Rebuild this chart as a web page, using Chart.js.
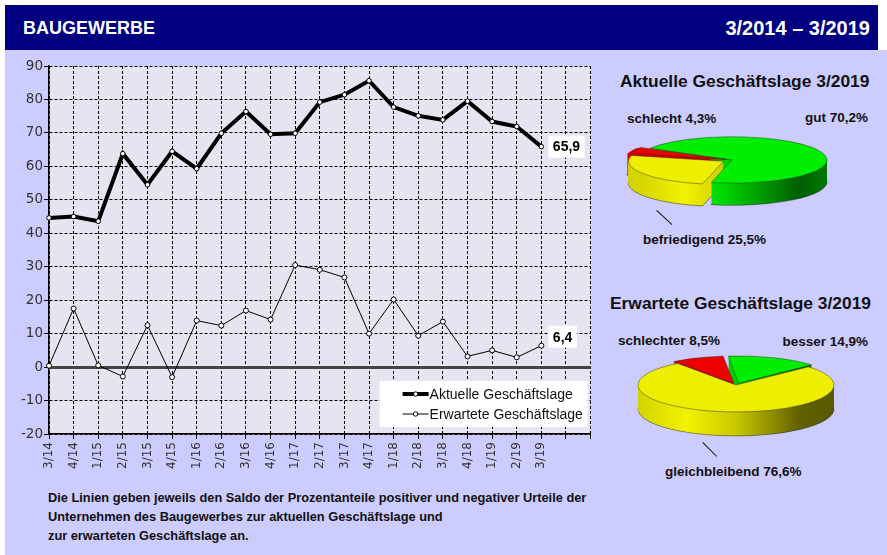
<!DOCTYPE html>
<html>
<head>
<meta charset="utf-8">
<script src="https://cdn.jsdelivr.net/npm/chart.js@4/dist/chart.umd.min.js"></script>
<style>
  body { margin: 0; background: #fff; }
  #page { position: relative; width: 887px; height: 555px; overflow: hidden; font-family: "Liberation Sans", Arial, sans-serif; }
  #head { position: absolute; left: 5px; top: 5px; width: 873px; height: 45px; background: #000080; }
  #body { position: absolute; left: 5px; top: 50px; width: 882px; height: 505px; background: #ccccff; }
  .t { position: absolute; white-space: nowrap; line-height: 20px; transform: translateY(-50%); }
  .hd { color: #fff; font-weight: bold; }
  .pt { font-weight: bold; font-size: 17.4px; color: #111; }
  .pl { font-weight: bold; font-size: 13.5px; color: #111; }
  .lead { position: absolute; height: 1px; background: #111; transform-origin: 0 0; }
  #foot { position: absolute; left: 48px; top: 488px; font-weight: bold; font-size: 12.8px; line-height: 19px; color: #111; }
  canvas { position: absolute; }
</style>
</head>
<body>
<div id="page">
  <div id="head"></div>
  <div id="body"></div>
  <div class="t hd" style="left:23px; top:28px; font-size:18px;">BAUGEWERBE</div>
  <div class="t hd" style="right:17px; top:28px; font-size:20px;">3/2014 – 3/2019</div>

  <canvas id="lineChart" width="608" height="430" style="left:0; top:48px;"></canvas>

  <div class="t pt" style="left:620px; top:81px;">Aktuelle Geschäftslage 3/2019</div>
  <div class="t pl" id="lblA2" style="left:627px; top:119px;"></div>
  <div class="t pl" id="lblA0" style="right:19px; top:118px;"></div>
  <div class="t pl" id="lblA1" style="left:643px; top:240px;"></div>
  <canvas id="pieA" width="264" height="120" style="left:600px; top:100px;"></canvas>
  <div class="lead" style="left:657px; top:210px; width:21px; transform: rotate(43deg);"></div>

  <div class="t pt" style="left:610px; top:303px;">Erwartete Geschäftslage 3/2019</div>
  <div class="t pl" id="lblE2" style="left:618px; top:341px;"></div>
  <div class="t pl" id="lblE0" style="right:19px; top:342px;"></div>
  <div class="t pl" id="lblE1" style="left:665px; top:472px;"></div>
  <canvas id="pieE" width="272" height="120" style="left:600px; top:325px;"></canvas>
  <div class="lead" style="left:703px; top:442px; width:20px; transform: rotate(45deg);"></div>

  <div id="foot">Die Linien geben jeweils den Saldo der Prozentanteile positiver und negativer Urteile der<br>Unternehmen des Baugewerbes zur aktuellen Geschäftslage und<br>zur erwarteten Geschäftslage an.</div>
</div>

<script>
// Quartale (die letzten zwei Positionen bleiben leer)
const quarters = ['3/14', '4/14', '1/15', '2/15', '3/15', '4/15', '1/16', '2/16', '3/16', '4/16',
                  '1/17', '2/17', '3/17', '4/17', '1/18', '2/18', '3/18', '4/18', '1/19', '2/19', '3/19', '', ''];

const aktuell = [44.6, 45.0, 43.6, 63.8, 54.5, 64.5, 59.3, 69.9, 76.4, 69.6,
                 69.9, 79.2, 81.4, 85.6, 77.7, 75.1, 73.9, 79.5, 73.4, 71.9, 65.9];
const erwartet = [0.4, 17.5, 0.5, -2.8, 12.5, -3.0, 13.9, 12.4, 16.9, 14.2,
                  30.5, 29.1, 26.8, 10.0, 20.2, 9.4, 13.6, 3.2, 5.0, 2.9, 6.4];

const yTicks = { min: -20, max: 90, step: 10 };

// Tortendiagramme 3/2019
const lageLabels = ['gut', 'befriedigend', 'schlecht'];
const lageValues = [70.2, 25.5, 4.3];
const erwLabels = ['besser', 'gleichbleibend', 'schlechter'];
const erwValues = [14.9, 76.6, 8.5];

// green / yellow / red in both pies
const pieColors = ['#00ee00', '#eeee00', '#ee0000'];

const fmt = v => v.toFixed(1).replace('.', ',');

Chart.defaults.font.family = '"DejaVu Sans", sans-serif';
Chart.defaults.animation = false;

// plot background, zero line, value boxes, legend
const plotDeco = {
    id: 'plotDeco',
    beforeDraw(chart) {
        const { ctx, chartArea: a } = chart;
        ctx.save();
        ctx.fillStyle = '#e5e5f2';
        ctx.fillRect(a.left, a.top, a.right - a.left, a.bottom - a.top);
        ctx.restore();
    },
    beforeDatasetsDraw(chart) {
        const { ctx, chartArea: a, scales } = chart;
        const y0 = Math.round(scales.y.getPixelForValue(0)) + 0.5;
        ctx.save();
        ctx.strokeStyle = '#444';
        ctx.lineWidth = 3;
        ctx.beginPath();
        ctx.moveTo(a.left, y0);
        ctx.lineTo(a.right, y0);
        ctx.stroke();
        ctx.restore();
    },
    afterDatasetsDraw(chart, args, opts) {
        const { ctx, chartArea: a } = chart;
        ctx.save();

        ctx.font = 'bold 14px "Liberation Sans", Arial';
        ctx.textBaseline = 'middle';
        ctx.textAlign = 'center';
        chart.data.datasets.forEach((ds, i) => {
            const meta = chart.getDatasetMeta(i);
            const pt = meta.data[ds.data.length - 1];
            const txt = fmt(ds.data[ds.data.length - 1]);
            const w = ctx.measureText(txt).width + 9;
            const cy = pt.y + opts.labelShift[i];
            ctx.fillStyle = '#fff';
            ctx.fillRect(pt.x + 7, cy - 11, w, 22);
            ctx.fillStyle = '#000';
            ctx.fillText(txt, pt.x + 7 + w / 2, cy + 1);
        });

        const bx = a.right - 211, by = a.bottom - 53, bw = 208, bh = 46;
        ctx.fillStyle = '#fff';
        ctx.fillRect(bx, by, bw, bh);
        ctx.font = '14px "Liberation Sans Narrow", "Liberation Sans", Arial';
        ctx.textAlign = 'left';
        chart.data.datasets.forEach((ds, i) => {
            const ly = by + 13 + i * 20;
            ctx.strokeStyle = ds.borderColor;
            ctx.lineWidth = ds.borderWidth;
            ctx.beginPath();
            ctx.moveTo(bx + 23, ly);
            ctx.lineTo(bx + 49, ly);
            ctx.stroke();
            ctx.fillStyle = '#fff';
            ctx.lineWidth = 1;
            ctx.beginPath();
            ctx.arc(bx + 36, ly, 2.2, 0, Math.PI * 2);
            ctx.fill();
            ctx.stroke();
            ctx.fillStyle = '#111';
            ctx.fillText(ds.label, bx + 50, ly + 1);
        });
        ctx.restore();
    }
};

new Chart(document.getElementById('lineChart'), {
    type: 'line',
    data: {
        labels: quarters,
        datasets: [{
            label: 'Aktuelle Geschäftslage',
            data: aktuell,
            borderColor: '#000',
            borderWidth: 4,
            pointRadius: 2.3,
            pointBackgroundColor: '#fff',
            pointBorderColor: '#000',
            pointBorderWidth: 1,
            tension: 0
        }, {
            label: 'Erwartete Geschäftslage',
            data: erwartet,
            borderColor: '#000',
            borderWidth: 1,
            pointRadius: 2.5,
            pointBackgroundColor: '#fff',
            pointBorderColor: '#000',
            pointBorderWidth: 1,
            tension: 0
        }]
    },
    options: {
        responsive: false,
        events: [],
        layout: { padding: { left: 5, top: 18, right: 1, bottom: 0 } },
        plugins: {
            legend: { display: false },
            tooltip: { enabled: false },
            plotDeco: { labelShift: [0, -9] }
        },
        scales: {
            x: {
                afterFit(s) { s.height = 44; },
                grid: { color: '#000', lineWidth: 1, tickLength: 5, tickBorderDash: [] },
                border: { display: true, color: '#000', width: 1.5, dash: [3, 2] },
                ticks: { color: '#333', font: { size: 12 }, minRotation: 90, maxRotation: 90, autoSkip: false, padding: 3 }
            },
            y: {
                min: yTicks.min,
                max: yTicks.max,
                afterFit(s) { s.width = 44; },
                grid: { color: '#000', lineWidth: 1, tickLength: 5, tickBorderDash: [] },
                border: { display: true, color: '#000', width: 1.5, dash: [3, 2] },
                ticks: { stepSize: yTicks.step, color: '#333', font: { size: 13.5 }, padding: 1 }
            }
        }
    },
    plugins: [plotDeco]
});

// side shading for the 3D pies, keyed by top colour
const sideStops = {
    '#00ee00': [[0, '#22ee22'], [0.45, '#00d800'], [0.85, '#005f00'], [1, '#007800']],
    '#eeee00': [[0, '#d4d400'], [0.25, '#f2f200'], [0.5, '#c8c800'], [0.82, '#626200'], [1, '#585800']],
    '#ee0000': [[0, '#dd0000'], [1, '#880000']]
};

// same geometry as Chart.js ArcElement (offset handling), squashed by t
function sector(ctx, arc, cx, cy, t) {
    const off = (arc.options.offset || 0) / 4;
    const half = (arc.startAngle + arc.endAngle) / 2;
    const fix = 1 - Math.sin(Math.min(Math.PI, arc.circumference || 0));
    const ro = off * fix;
    const x = cx + Math.cos(half) * (off + ro);
    const y = cy + Math.sin(half) * (off + ro) * t;
    const r = arc.outerRadius + ro;
    ctx.beginPath();
    ctx.moveTo(x, y);
    ctx.ellipse(x, y, r, r * t, 0, arc.startAngle, arc.endAngle);
    ctx.closePath();
}

const pie3d = {
    id: 'pie3d',
    beforeDatasetsDraw(chart, args, opts) {
        const ctx = chart.ctx;
        const arcs = chart.getDatasetMeta(0).data;
        const cx = arcs[0].x, cy = arcs[0].y, R = arcs[0].outerRadius;
        const colors = chart.data.datasets[0].backgroundColor;
        const fills = colors.map(c => {
            const g = ctx.createLinearGradient(cx - R, 0, cx + R, 0);
            sideStops[c].forEach(s => g.addColorStop(s[0], s[1]));
            return g;
        });
        ctx.save();
        for (let k = opts.depth; k >= 1; k--) {
            arcs.forEach((arc, i) => {
                sector(ctx, arc, cx, cy + k, opts.tilt);
                ctx.fillStyle = fills[i];
                ctx.fill();
                if (k === opts.depth) {
                    ctx.strokeStyle = 'rgba(30,30,30,0.6)';
                    ctx.lineWidth = 0.8;
                    ctx.stroke();
                }
            });
        }
        ctx.restore();
        // top faces are drawn by the library inside this squashed transform
        ctx.save();
        ctx.translate(cx, cy);
        ctx.scale(1, opts.tilt);
        ctx.translate(-cx, -cy);
    },
    afterDatasetsDraw(chart) {
        chart.ctx.restore();
    }
};

function makePie(id, labels, values, offsets, rotation, radius, tilt, depth) {
    return new Chart(document.getElementById(id), {
        type: 'pie',
        data: {
            labels: labels,
            datasets: [{
                data: values,
                backgroundColor: pieColors,
                borderColor: 'rgba(40,40,40,0.7)',
                borderWidth: 1,
                offset: offsets
            }]
        },
        options: {
            responsive: false,
            events: [],
            rotation: rotation,
            radius: radius,
            layout: { padding: 0 },
            plugins: {
                legend: { display: false },
                tooltip: { enabled: false },
                pie3d: { tilt: tilt, depth: depth }
            }
        },
        plugins: [pie3d]
    });
}

makePie('pieA', lageLabels, lageValues, [0, 40, 23], -60, 95, 0.245, 22);
makePie('pieE', erwLabels, erwValues, [27, 0, 21], -6, 98, 0.275, 24);

lageLabels.forEach((l, i) => {
    document.getElementById('lblA' + i).textContent = l + ' ' + fmt(lageValues[i]) + '%';
});
erwLabels.forEach((l, i) => {
    document.getElementById('lblE' + i).textContent = l + ' ' + fmt(erwValues[i]) + '%';
});
</script>
</body>
</html>
